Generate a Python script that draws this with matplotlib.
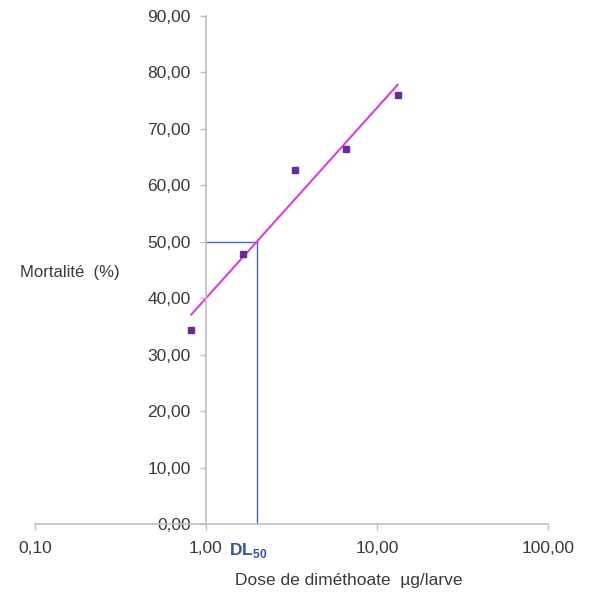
import numpy as np
import matplotlib
matplotlib.use('Agg')
import matplotlib.pyplot as plt

# Dose de diméthoate (µg/larve) et mortalité observée (%)
dose      = [0.82, 1.65, 3.3, 6.6, 13.2]
mortalite = [34.4, 47.9, 62.7, 66.4, 76.0]

xticks = [0.1, 1, 10, 100]
xlabels = ['0,10', '1,00', '10,00', '100,00']
yticks = list(range(0, 100, 10))
ylabels = [f'{v},00' for v in yticks]

plt.rcParams['font.family'] = ['Liberation Sans', 'DejaVu Sans']
plt.rcParams['mathtext.fontset'] = 'custom'
plt.rcParams['mathtext.rm'] = 'Liberation Sans'
plt.rcParams['mathtext.bf'] = 'Liberation Sans:bold'

TXT = '#3A3A3A'
AXC = '#BFBFBF'

fig = plt.figure(figsize=(5.9, 5.98), dpi=100)
ax = fig.add_axes([35/590, 1 - 524/598, (548 - 35)/590, (524 - 16)/598])

# droite de régression en log(dose)
logd = np.log10(dose)
b, a = np.polyfit(logd, mortalite, 1)
xfit = np.array([min(dose), max(dose)])
ax.plot(xfit, a + b*np.log10(xfit), color='#DA3FDA', lw=1.5, zorder=2)

ax.plot(dose, mortalite, 's', color='#6A2A9A', ms=3.8, zorder=3)

# DL50
dl50 = 10**((50 - a)/b)
ax.plot([1, dl50], [50, 50], color='#3E6BA5', lw=1, zorder=1)
ax.plot([dl50, dl50], [0, 50], color='#3E6BA5', lw=1, zorder=1)
ax.annotate(r'DL$_{\mathbf{50}}$', xy=(dl50, 0), xytext=(-8, -27),
            textcoords='offset pixels', ha='center', va='center',
            fontsize=12.5, fontweight='bold', color='#2F5A93')

ax.set_xscale('log')
ax.set_xlim(0.1, 100)
ax.set_ylim(0, 90)
ax.set_xticks(xticks)
ax.set_xticklabels(xlabels)
ax.xaxis.set_minor_locator(matplotlib.ticker.NullLocator())
ax.set_yticks(yticks)
ax.set_yticklabels(ylabels)

ax.spines['left'].set_position(('data', 1))
ax.spines['top'].set_visible(False)
ax.spines['right'].set_visible(False)
for s in ('left', 'bottom'):
    ax.spines[s].set_color(AXC)
    ax.spines[s].set_linewidth(1.2)

ax.tick_params(axis='both', colors=AXC, labelcolor=TXT, labelsize=12.5,
               direction='out', length=4, width=1)
ax.tick_params(axis='x', pad=8)
ax.tick_params(axis='y', pad=7)

fig.text(70/590, 1 - 273/598, 'Mortalité  (%)', ha='center', va='center',
         fontsize=12, color=TXT)
fig.text(349/590, 1 - 580/598, 'Dose de diméthoate  µg/larve', ha='center',
         va='center', fontsize=12.5, color=TXT)

fig.savefig('out.png', dpi=100)
